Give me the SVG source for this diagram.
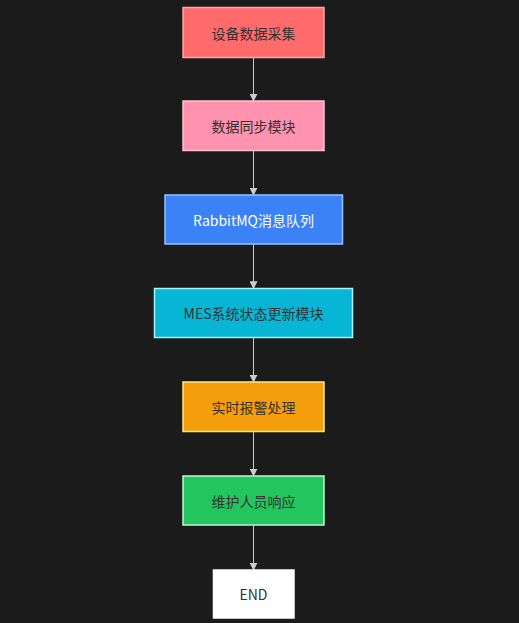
<svg xmlns="http://www.w3.org/2000/svg" width="519" height="623" viewBox="0 0 519 623">
<style>
.n rect{stroke-width:1.5}
.t{font-family:"Noto Sans CJK SC","Noto Sans",sans-serif;font-size:14px;text-anchor:middle;dominant-baseline:central;fill:#333}
.e{stroke:#cccccc;stroke-width:1;fill:none;marker-end:url(#ah)}
</style>
<defs>
<marker id="ah" viewBox="0 0 10 10" refX="9" refY="5" markerWidth="8" markerHeight="8" orient="auto" markerUnits="userSpaceOnUse">
<path d="M0,0 L10,5 L0,10 z" fill="#cccccc"/>
</marker>
</defs>
<rect width="519" height="623" fill="#1b1b1b"/>
<g id="edges">
<line class="e" x1="253.5" y1="57.5" x2="253.5" y2="101"/>
<line class="e" x1="253.5" y1="150.5" x2="253.5" y2="195"/>
<line class="e" x1="253.5" y1="244" x2="253.5" y2="288.5"/>
<line class="e" x1="253.5" y1="337.5" x2="253.5" y2="382"/>
<line class="e" x1="253.5" y1="431.5" x2="253.5" y2="476"/>
<line class="e" x1="253.5" y1="525" x2="253.5" y2="570"/>
</g>
<g id="n1" class="n"><rect x="183" y="7.5" width="141" height="50" fill="#ff6b6b" stroke="#ffa5a5"/><text class="t" x="253.5" y="32.5">设备数据采集</text></g>
<g id="n2" class="n"><rect x="183" y="101" width="141" height="49.5" fill="#ff92ae" stroke="#ffc0d0"/><text class="t" x="253.5" y="126">数据同步模块</text></g>
<g id="n3" class="n"><rect x="165" y="195" width="177.5" height="49" fill="#3b82f6" stroke="#93c5fd"/><text class="t" x="253.5" y="219.5" style="fill:#ffffff">RabbitMQ消息队列</text></g>
<g id="n4" class="n"><rect x="154.5" y="288.5" width="198" height="49" fill="#06b6d4" stroke="#a5f3fc"/><text class="t" x="253.5" y="313">MES系统状态更新模块</text></g>
<g id="n5" class="n"><rect x="183" y="382" width="141" height="49.5" fill="#f59e0b" stroke="#fde68a"/><text class="t" x="253.5" y="407">实时报警处理</text></g>
<g id="n6" class="n"><rect x="183" y="476" width="141" height="49" fill="#22c55e" stroke="#bbf7d0"/><text class="t" x="253.5" y="500.5">维护人员响应</text></g>
<g id="n7" class="n"><rect x="213.5" y="570" width="80.5" height="48" fill="#ffffff" stroke="#ffffff"/><text class="t" x="253.5" y="594">END</text></g>
</svg>
